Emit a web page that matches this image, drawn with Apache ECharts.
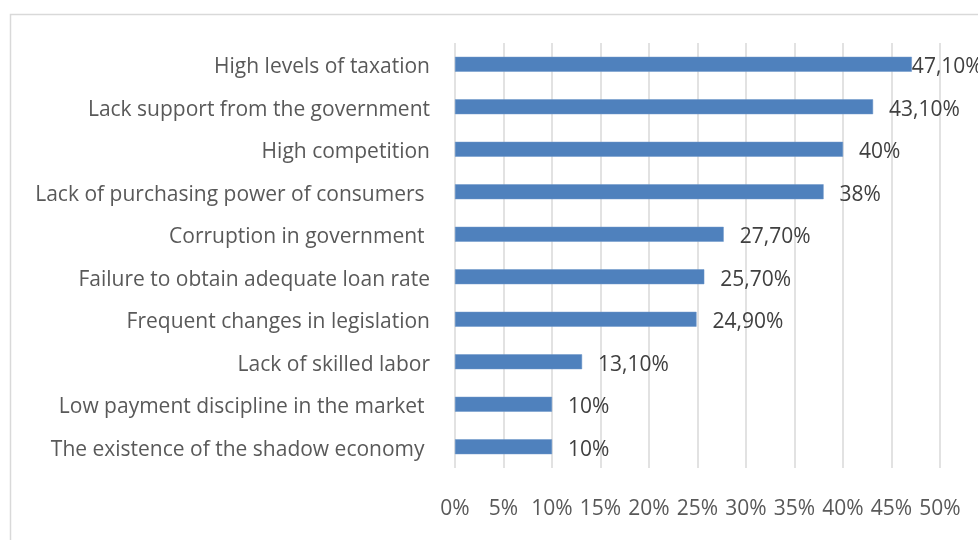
<!DOCTYPE html>
<html>
<head>
<meta charset="utf-8">
<script src="https://cdn.jsdelivr.net/npm/echarts@6/dist/echarts.min.js"></script>
<style>
  html, body { margin: 0; padding: 0; background: #fff; }
  #chart { width: 978px; height: 540px; }
</style>
</head>
<body>
<div id="chart"></div>
<script>
// Obstacles to doing business, share of respondents (%)
const categories = [
  'High levels of taxation',
  'Lack support from the government',
  'High competition',
  'Lack of purchasing power of consumers ',
  'Corruption in government ',
  'Failure to obtain adequate loan rate',
  'Frequent changes in legislation',
  'Lack of skilled labor',
  'Low payment discipline in the market ',
  'The existence of the shadow economy '
];
const shares = [47.1, 43.1, 40, 38, 27.7, 25.7, 24.9, 13.1, 10, 10];
const axisTicks = [0, 5, 10, 15, 20, 25, 30, 35, 40, 45, 50];

const FONT = '"Open Sans", sans-serif';
const FONT_SIZE = 21;

// Decimal comma, two decimals for fractional values
function pct(v) {
  return Number.isInteger(v) ? v + '%' : v.toFixed(2).replace('.', ',') + '%';
}

const chart = echarts.init(document.getElementById('chart'), null, { renderer: 'canvas' });

const barData = shares.map((v, i) => {
  const item = { value: v };
  // the widest bar's label is pulled in so it stays inside the frame
  if (i === 0) item.label = { distance: 0 };
  return item;
});

chart.setOption({
  animation: false,
  backgroundColor: '#ffffff',
  graphic: [{
    type: 'rect',
    shape: { x: 10.5, y: 14.5, width: 1000, height: 600 },
    style: { fill: 'none', stroke: '#d9d9d9', lineWidth: 1.5 },
    silent: true
  }],
  grid: { left: 455, right: 38, top: 43, bottom: 72, containLabel: false },
  xAxis: {
    type: 'value',
    min: axisTicks[0],
    max: axisTicks[axisTicks.length - 1],
    interval: axisTicks[1] - axisTicks[0],
    axisLine: { show: false },
    axisTick: { show: false },
    axisLabel: {
      margin: 31,
      color: '#595959',
      fontFamily: FONT,
      fontSize: FONT_SIZE,
      formatter: v => v + '%'
    },
    splitLine: { show: true, lineStyle: { color: '#d9d9d9', width: 1.5 } }
  },
  yAxis: {
    type: 'category',
    data: categories,
    inverse: true,
    axisLine: { show: false },
    axisTick: { show: false },
    splitLine: { show: false },
    axisLabel: {
      margin: 25,
      formatter: v => '{c|' + v + '}',
      rich: {
        c: {
          padding: [6, 0, 0, 0],
          color: '#595959',
          fontFamily: FONT,
          fontSize: FONT_SIZE
        }
      }
    }
  },
  series: [{
    type: 'bar',
    data: barData,
    barWidth: '35%',
    itemStyle: { color: '#4f81bd', borderColor: '#6a94c8', borderWidth: 0.5 },
    label: {
      show: true,
      position: 'right',
      distance: 16,
      offset: [0, 3],
      color: '#404040',
      fontFamily: FONT,
      fontSize: FONT_SIZE,
      formatter: p => pct(p.value)
    }
  }]
});
</script>
</body>
</html>
